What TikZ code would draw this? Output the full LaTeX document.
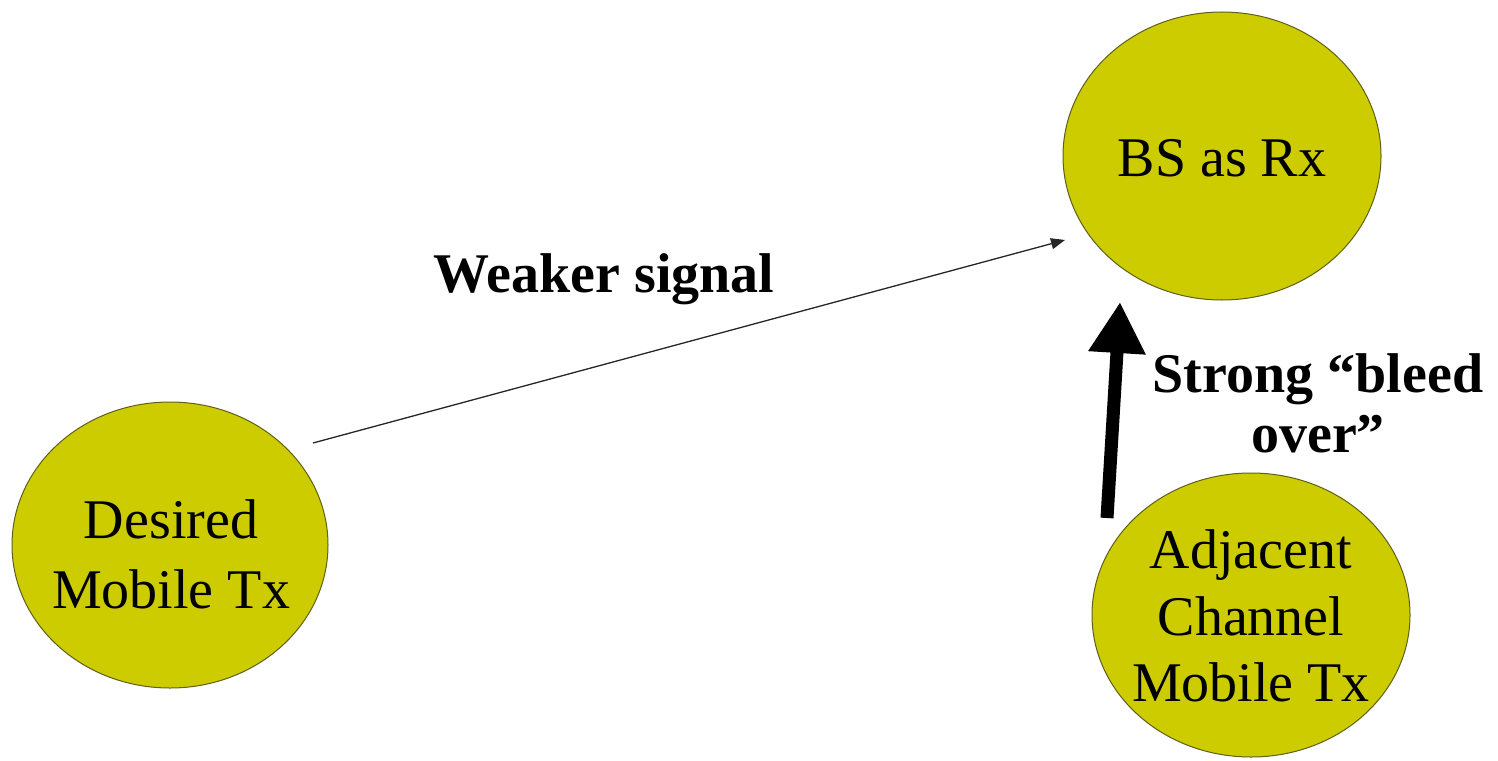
\documentclass[tikz,border=0pt]{standalone}
\usepackage{fontspec}
\setmainfont{Liberation Serif}
\usetikzlibrary{shapes.geometric,arrows.meta}
\definecolor{discfill}{RGB}{204,204,0}
\definecolor{discedge}{RGB}{95,95,25}
\begin{document}
\begin{tikzpicture}[x=1pt,y=-1pt,
  disc/.style={ellipse, draw=discedge, line width=1pt, fill=discfill, inner sep=0pt},
  disctext/.style={inner sep=0pt, align=center, font=\fontsize{56}{68}\selectfont},
  lbl/.style={inner sep=0pt, align=center, font=\fontsize{56}{60}\selectfont\bfseries},
  weak/.style={-{Triangle[length=14pt,width=11pt]}, line width=1.3pt, draw=black!85},
  strong/.style={-{Triangle[length=51pt,width=54pt]}, line width=13pt, draw=black}]
\useasboundingbox (0,0) rectangle (1498,760);

% the three stations
\node[disc, minimum width=318pt, minimum height=288pt] (bs) at (1222,156) {};
\node[disc, minimum width=316pt, minimum height=286pt] (des) at (170,545) {};
\node[disc, minimum width=318pt, minimum height=284pt] (adj) at (1251,615) {};

\node[disctext] (bstxt) at (1222,158) {BS as Rx};
\node[disctext, font=\fontsize{56}{70}\selectfont] (destxt) at (171,554) {Desired\\Mobile Tx};
\node[disctext, font=\fontsize{56}{66.5}\selectfont] (adjtxt) at (1251,616) {Adjacent\\Channel\\Mobile Tx};

% end points of the two signal paths
\path (des.center) ++(143,-102) coordinate (wa);
\path (bs.center) ++(-157,84) coordinate (wb);
\path (adj.center) ++(-144,-97) coordinate (sa);
\path (bs.center) ++(-102,146) coordinate (sb);

\draw[weak] (wa) -- (wb);
\draw[strong] (sa) -- (sb);

% path labels
\node[lbl, anchor=base] (weaklbl) at (604,292) {Weaker signal};
\node[lbl, anchor=base] (stronglbl) at (1318,452) {Strong “bleed\\over”};
\end{tikzpicture}
\end{document}
